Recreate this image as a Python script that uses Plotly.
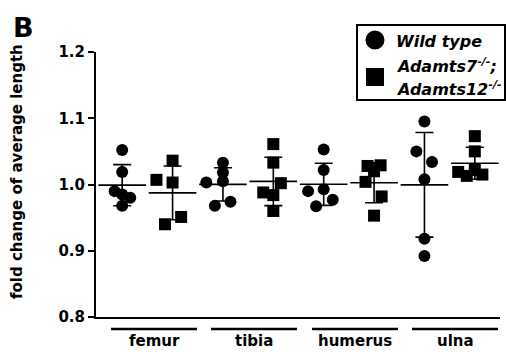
import numpy as np
import plotly.graph_objects as go

# ---------------- data ----------------
bones = ["femur", "tibia", "humerus", "ulna"]
series_names = ["Wild type", "Adamts7-/-; Adamts12-/-"]
wt_femur = [1.052, 1.019, 0.990, 0.985, 0.980, 0.968]
ko_femur = [1.036, 1.007, 1.003, 0.951, 0.940]
wt_tibia = [1.033, 1.018, 1.005, 1.003, 0.968, 0.974]
ko_tibia = [1.061, 1.033, 1.002, 0.988, 0.984, 0.960]
wt_humerus = [1.053, 1.022, 0.990, 0.993, 0.977, 0.967]
ko_humerus = [1.028, 1.029, 1.020, 1.004, 0.982, 0.953]
wt_ulna = [1.095, 1.050, 1.034, 1.008, 0.918, 0.892]
ko_ulna = [1.073, 1.050, 1.019, 1.013, 1.015, 1.022]
y_ticks = [0.8, 0.9, 1.0, 1.1, 1.2]
y_tick_labels = ["0.8", "0.9", "1.0", "1.1", "1.2"]

# ---------------- layout / style (not data) ----------------
jitter = {
    ("femur", 0): [0, 0, -0.15, 0.0, 0.16, 0],
    ("femur", 1): [0, -0.32, 0, 0.17, -0.15],
    ("tibia", 0): [0, 0, 0, -0.33, -0.16, 0.15],
    ("tibia", 1): [0, 0, 0.15, -0.2, 0.0, 0],
    ("humerus", 0): [0, 0, -0.31, 0, 0.18, -0.15],
    ("humerus", 1): [-0.13, 0.13, 0, -0.17, 0.15, 0],
    ("ulna", 0): [0, -0.16, 0.15, 0, 0, 0],
    ("ulna", 1): [0, 0, -0.33, -0.16, 0.15, 0],
}
groups = {
    ("femur", 0): wt_femur, ("femur", 1): ko_femur,
    ("tibia", 0): wt_tibia, ("tibia", 1): ko_tibia,
    ("humerus", 0): wt_humerus, ("humerus", 1): ko_humerus,
    ("ulna", 0): wt_ulna, ("ulna", 1): ko_ulna,
}
W, H = 506, 352
L, R, T, B = 96, 6, 52, 35
FONT = "DejaVu Sans, sans-serif"
symbols = ["circle", "square"]


def px(x):
    return (x - L) / (W - L - R)


def py(y):
    return (H - B - y) / (H - T - B)


fig = go.Figure()
for bi, bone in enumerate(bones):
    for s in range(2):
        vals = np.array(groups[(bone, s)])
        xc = bi * 2 + s
        xs = [xc + j for j in jitter[(bone, s)]]
        fig.add_trace(go.Scatter(
            x=xs, y=vals, mode="markers", showlegend=False,
            marker=dict(symbol=symbols[s], size=12, color="black", line=dict(width=0)),
            cliponaxis=False, hoverinfo="y"))
        m = vals.mean()
        sd = vals.std(ddof=1)
        fig.add_trace(go.Scatter(
            x=[xc], y=[m], mode="markers", showlegend=False,
            marker=dict(symbol="line-ew", size=34, color="black",
                        line=dict(width=1.6, color="black")),
            error_y=dict(type="data", array=[sd], visible=True,
                         color="black", thickness=1.6, width=9),
            hoverinfo="y"))

shapes = []
annotations = []
# category underlines and labels
cat_px = [(111, 197), (211, 297), (312, 398), (412, 498)]
for bone, (x0, x1) in zip(bones, cat_px):
    shapes.append(dict(type="line", xref="paper", yref="paper",
                       x0=px(x0), x1=px(x1), y0=py(329), y1=py(329),
                       line=dict(color="black", width=2.5)))
    annotations.append(dict(text=bone, xref="paper", yref="paper",
                            x=px((x0 + x1) / 2), y=py(341), showarrow=False,
                            xanchor="center", yanchor="middle",
                            font=dict(family=FONT, size=15, color="black", weight="bold")))

# legend box
shapes.append(dict(type="rect", xref="paper", yref="paper",
                   x0=px(357), x1=px(505), y0=py(25), y1=py(100),
                   line=dict(color="black", width=2), fillcolor="white", layer="above"))
shapes.append(dict(type="circle", xref="paper", yref="paper",
                   x0=px(365.5), x1=px(384.5), y0=py(30.5), y1=py(49.5),
                   line=dict(width=0), fillcolor="black", layer="above"))
shapes.append(dict(type="rect", xref="paper", yref="paper",
                   x0=px(366), x1=px(384), y0=py(68), y1=py(86),
                   line=dict(width=0), fillcolor="black", layer="above"))
leg_texts = ["<i>Wild type</i>", "<i>Adamts7<sup>-/-</sup>;</i>", "<i>Adamts12<sup>-/-</sup></i>"]
for t, yy in zip(leg_texts, [41, 65, 88]):
    annotations.append(dict(text=t, xref="paper", yref="paper", x=px(394), y=py(yy),
                            showarrow=False, xanchor="left", yanchor="middle",
                            font=dict(family=FONT, size=16, color="black", weight="bold")))

# panel letter
annotations.append(dict(text="B", xref="paper", yref="paper", x=px(11), y=py(27),
                        showarrow=False, xanchor="left", yanchor="middle",
                        font=dict(family=FONT, size=27, color="black", weight="bold")))

# y axis title
annotations.append(dict(text="fold change of average length", xref="paper", yref="paper",
                        x=px(17), y=py(172), showarrow=False, textangle=-90,
                        xanchor="center", yanchor="middle",
                        font=dict(family=FONT, size=15, color="black", weight="bold")))

fig.update_layout(
    width=W, height=H, margin=dict(l=L, r=R, t=T, b=B),
    paper_bgcolor="white", plot_bgcolor="white",
    shapes=shapes, annotations=annotations, showlegend=False,
    xaxis=dict(range=[-0.52, 7.5], showgrid=False, zeroline=False, showticklabels=False,
               ticks="", showline=True, linecolor="black", linewidth=2),
    yaxis=dict(range=[0.8, 1.2], tickvals=y_ticks, ticktext=y_tick_labels,
               showgrid=False, zeroline=False, showline=True, linecolor="black", linewidth=2,
               ticks="outside", ticklen=6, tickwidth=2, tickcolor="black",
               tickfont=dict(family=FONT, size=15, color="black", weight="bold")),
)

fig.write_html("out.html")
